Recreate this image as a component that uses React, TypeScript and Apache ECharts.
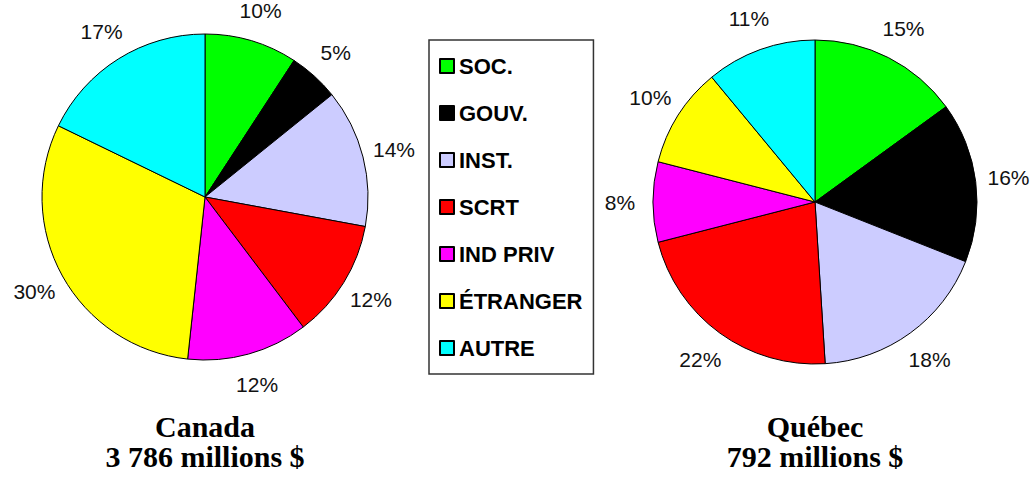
import React, { useEffect, useRef } from "react";
import * as echarts from "echarts";

const categories = ["SOC.", "GOUV.", "INST.", "SCRT", "IND PRIV", "ÉTRANGER", "AUTRE"];
const colors = ["#00FF00", "#000000", "#CCCCFF", "#FF0000", "#FF00FF", "#FFFF00", "#00FFFF"];
// slice shares as drawn in the reference
const canadaValues = [9.2, 5.0, 13.7, 11.8, 12.0, 30.5, 17.8];
const quebecValues = [15, 16, 18, 22, 8, 10, 11];
// percentages printed next to the slices
const canadaLabels = [10, 5, 14, 12, 12, 30, 17];
const quebecLabels = [15, 16, 18, 22, 8, 10, 11];
const titlesCanada = ["Canada", "3 786 millions $"];
const titlesQuebec = ["Québec", "792 millions $"];

function App() {
  const ref = useRef<HTMLDivElement>(null);
  useEffect(() => {
    if (!ref.current) return;
    const chart = echarts.init(ref.current, undefined, { renderer: "svg" });
    const mk = (vals: number[]) =>
      vals.map((v, i) => ({ name: categories[i], value: v, itemStyle: { color: colors[i] } }));

    const mainPie = (vals: number[], center: number[], r: number) => ({
      type: "pie",
      center,
      radius: [0, r],
      startAngle: 90,
      clockwise: true,
      data: mk(vals),
      label: { show: false },
      labelLine: { show: false },
      itemStyle: { borderColor: "#000", borderWidth: 1 },
      emphasis: { disabled: true },
      silent: true,
    });
    const labelPie = (vals: number[], labels: number[], center: number[], r0: number, r1: number) => ({
      type: "pie",
      center,
      radius: [r0, r1],
      startAngle: 90,
      clockwise: true,
      data: vals.map((v, i) => ({ name: categories[i], value: v })),
      itemStyle: { color: "rgba(0,0,0,0)", borderWidth: 0 },
      label: {
        show: true,
        position: "inside",
        formatter: (p: any) => labels[p.dataIndex] + "%",
        fontFamily: "Liberation Sans, Arial, sans-serif",
        fontSize: 21,
        color: "#111",
      },
      labelLine: { show: false },
      emphasis: { disabled: true },
      legendHoverLink: false,
      silent: true,
    });

    const titleFont = {
      fontFamily: "Liberation Serif, Times New Roman, serif",
      fontSize: 30,
      lineHeight: 30,
      fontWeight: "bold",
      fill: "#000",
      align: "center",
      verticalAlign: "middle",
    };

    chart.setOption({
      animation: false,
      legend: {
        orient: "vertical",
        left: 429,
        top: 40,
        data: categories,
        selectedMode: false,
        itemWidth: 14,
        itemHeight: 14,
        itemGap: 25,
        icon: "rect",
        padding: [15, 11, 15, 10],
        borderColor: "#333",
        borderWidth: 1.5,
        textStyle: {
          fontFamily: "Liberation Sans, Arial, sans-serif",
          fontSize: 22,
          fontWeight: "bold",
          color: "#000",
          lineHeight: 20,
        },
      },
      series: [
        mainPie(canadaValues, [205, 197], 163),
        mainPie(quebecValues, [815, 202], 162),
        labelPie(canadaValues, canadaLabels, [205, 197], 178, 206),
        labelPie(quebecValues, quebecLabels, [815, 202], 178, 206),
      ],
      graphic: [
        { type: "text", x: 205, y: 441, style: { ...titleFont, text: titlesCanada.join("\n") } },
        { type: "text", x: 815, y: 441, style: { ...titleFont, text: titlesQuebec.join("\n") } },
      ],
    });
    return () => chart.dispose();
  }, []);
  return (
    <div
      ref={ref}
      style={{ position: "fixed", left: 0, top: 0, width: 1031, height: 479, background: "#fff" }}
    />
  );
}

export default App;
